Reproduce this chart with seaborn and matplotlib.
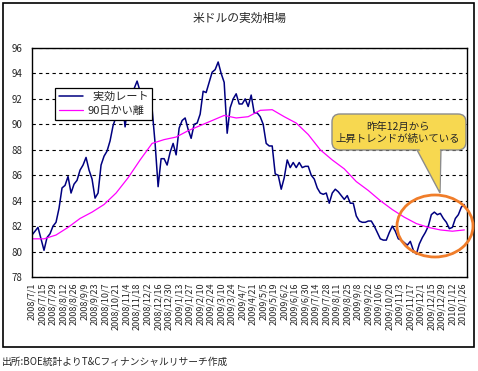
import pandas as pd
import numpy as np
import matplotlib
matplotlib.use('Agg')
import matplotlib.pyplot as plt
from matplotlib.patches import Rectangle, FancyBboxPatch, Polygon, Ellipse
import seaborn as sns

# --- data ---
title = '米ドルの実効相場'
source_note = '出所:BOE統計よりT&Cフィナンシャルリサーチ作成'
callout_text = '昨年12月から\n上昇トレンドが続いている'
rate_label = '  実効レート'
ma_label = '90日かい離'

# 実効レート, one reading every 4 days from 2008/7/1
rate_start = '2008-07-01'
rate_values = [
    81.3, 81.6, 81.9, 81.0, 80.1, 81.1, 81.4, 82.0, 82.3, 83.4,
    85.0, 85.2, 85.9, 84.6, 85.3, 85.6, 86.4, 86.8, 87.4, 86.4,
    85.7, 84.2, 84.6, 86.8, 87.5, 87.9, 88.7, 89.9, 90.6, 91.7,
    92.0, 89.8, 91.7, 91.6, 92.8, 93.4, 92.6, 91.0, 91.7, 92.1,
    91.2, 88.5, 85.1, 87.3, 87.3, 86.8, 87.8, 88.5, 87.6, 89.7,
    90.3, 90.5, 89.6, 88.9, 90.0, 90.1, 90.8, 92.6, 92.5, 93.3,
    94.1, 94.3, 94.9, 94.0, 93.3, 89.3, 91.3, 92.0, 92.4, 91.6,
    91.6, 92.0, 91.4, 92.3, 90.9, 90.9, 90.6, 90.0, 88.5, 88.3,
    88.3, 86.1, 86.0, 84.9, 85.8, 87.2, 86.6, 87.0, 86.6, 87.0,
    86.6, 86.7, 86.7, 86.0, 85.7, 85.0, 84.6, 84.5, 84.6, 83.8,
    84.6, 84.9, 84.7, 84.4, 84.1, 84.4, 83.8, 83.8, 82.8, 82.4,
    82.3, 82.3, 82.4, 82.4, 82.0, 81.5, 81.0, 80.9, 80.9, 81.5,
    82.0, 81.6, 81.0, 80.9, 80.7, 80.5, 80.8, 80.1, 79.8, 80.6,
    81.1, 81.5, 82.0, 82.9, 83.1, 82.9, 83.0, 82.6, 82.3, 81.8,
    81.9, 82.6, 82.9, 83.5, 83.7,
]

# 90日かい離 line, one reading every 16 days from 2008/7/1
ma_start = '2008-07-01'
ma_values = [
    81.0, 81.0, 81.3, 81.9, 82.6, 83.1, 83.7, 84.6, 85.8, 87.2,
    88.5, 88.8, 89.0, 89.5, 89.9, 90.3, 90.7, 90.5, 90.6, 91.1,
    91.15, 90.6, 90.1, 89.2, 88.0, 87.2, 86.5, 85.5, 84.8, 84.0,
    83.3, 82.7, 82.2, 81.9, 81.7, 81.6, 81.7,
]

# x tick labels every 14 days
tick_first = '2008-07-01'
tick_last = '2010-01-26'
y_ticks = [78, 80, 82, 84, 86, 88, 90, 92, 94, 96]

rate_df = pd.DataFrame({
    'date': pd.date_range(rate_start, periods=len(rate_values), freq='4D'),
    'value': rate_values,
})
ma_df = pd.DataFrame({
    'date': pd.date_range(ma_start, periods=len(ma_values), freq='16D'),
    'value': ma_values,
})
tick_dates = pd.date_range(tick_first, tick_last, freq='14D')
tick_labels = [f'{d.year}/{d.month}/{d.day}' for d in tick_dates]

sns.set_style('white')
plt.rcParams['font.family'] = ['Noto Sans CJK JP', 'DejaVu Sans']

W, H = 478, 371
fig = plt.figure(figsize=(W / 100, H / 100), dpi=100)
ax = fig.add_axes([32 / W, 1 - 277 / H, 435 / W, 229 / H])


def inch(px, py):
    # pixel position (from top-left) -> inches for dpi_scale_trans
    return px / 100, (H - py) / 100


sns.lineplot(data=rate_df, x='date', y='value', ax=ax, color='#000080',
             linewidth=1.1, label=rate_label)
sns.lineplot(data=ma_df, x='date', y='value', ax=ax, color='#FF00FF',
             linewidth=0.9, label=ma_label)

ax.set_xlim(pd.Timestamp('2008-07-01'), pd.Timestamp('2010-01-31 12:00'))
ax.set_ylim(78, 96)
ax.set_yticks(y_ticks)
ax.set_yticklabels([str(v) for v in y_ticks], fontsize=7)
ax.set_xticks(tick_dates)
ax.set_xticklabels(tick_labels, rotation=90, fontsize=6.5)
ax.set_xlabel('')
ax.set_ylabel('')
ax.tick_params(axis='x', direction='in', length=3, width=0.8, pad=4, color='black')
ax.tick_params(axis='y', length=0, pad=7)
ax.yaxis.grid(True, color='black', linestyle=(0, (3, 3)), linewidth=0.8)
ax.xaxis.grid(False)
for s in ax.spines.values():
    s.set_color('black')
    s.set_linewidth(1.0)

leg = ax.legend(loc='upper left', bbox_to_anchor=(0.04, 0.85), fontsize=8,
                frameon=True, fancybox=False, framealpha=1, edgecolor='black',
                handlelength=2.2, borderpad=0.35, labelspacing=0.35, handletextpad=0.4)
leg.get_frame().set_linewidth(0.9)
leg.set_zorder(10)

fig.text(240 / W, 1 - 18 / H, title, ha='center', va='center', fontsize=8.5)
fig.text(2 / W, 1 - 362 / H, source_note, ha='left', va='center', fontsize=7)

# outer frame
x0, y0 = inch(3, 347)
fig.patches.append(Rectangle((x0, y0), 471 / 100, 344 / 100, fill=False,
                             edgecolor='black', linewidth=1.2,
                             transform=fig.dpi_scale_trans))

# orange ellipse
cx, cy = inch(435, 226)
fig.patches.append(Ellipse((cx, cy), 76 / 100, 62 / 100, fill=False,
                           edgecolor='#F07D2A', linewidth=2.0,
                           transform=fig.dpi_scale_trans, zorder=5))

# callout bubble
yellow = '#F7D850'
tri = [inch(416, 148), inch(441, 148), inch(440, 193)]
fig.patches.append(Polygon(tri, closed=True, facecolor=yellow, edgecolor='#8C8C8C',
                           linewidth=1.0, transform=fig.dpi_scale_trans, zorder=6))
bx, by = inch(332, 150)
fig.patches.append(FancyBboxPatch((bx, by), 134 / 100, 36 / 100,
                                  boxstyle='round,pad=0,rounding_size=0.08',
                                  facecolor=yellow, edgecolor='#8C8C8C', linewidth=1.0,
                                  transform=fig.dpi_scale_trans, zorder=7))
tri_in = [inch(417.5, 145), inch(440, 145), inch(439.5, 190)]
fig.patches.append(Polygon(tri_in, closed=True, facecolor=yellow, edgecolor='none',
                           transform=fig.dpi_scale_trans, zorder=8))
tx, ty = inch(398, 133)
fig.text(tx / (W / 100), ty / (H / 100), callout_text, ha='center', va='center',
         fontsize=7.5, linespacing=1.3, zorder=9)

fig.savefig('out.png', dpi=100)
